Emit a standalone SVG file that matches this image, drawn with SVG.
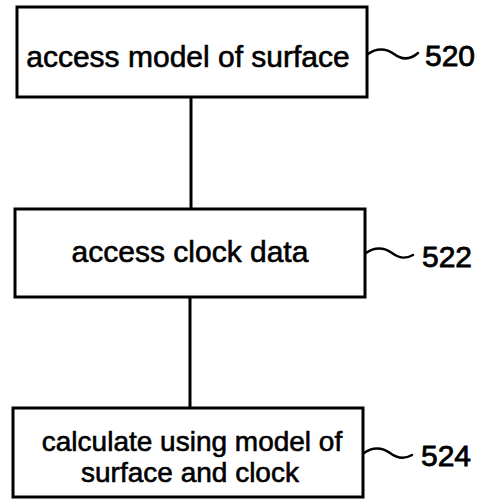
<svg xmlns="http://www.w3.org/2000/svg" width="493" height="500" viewBox="0 0 493 500">
  <style>
    .box { fill: #ffffff; stroke: #000000; stroke-width: 3; }
    .wire { fill: none; stroke: #000000; stroke-width: 3; }
    .lead { fill: none; stroke: #000000; stroke-width: 2.5; stroke-linecap: round; }
    .txt { font-family: "Liberation Sans", Arial, sans-serif; font-size: 30px; fill: #000000; stroke: #000000; stroke-width: 0.6; text-anchor: middle; }
    .txt2 { font-family: "Liberation Sans", Arial, sans-serif; font-size: 28px; fill: #000000; stroke: #000000; stroke-width: 0.6; text-anchor: middle; }
    .ref { font-family: "Liberation Sans", Arial, sans-serif; font-size: 30px; fill: #000000; stroke: #000000; stroke-width: 0.8; }
  </style>
  <rect width="493" height="500" fill="#ffffff"/>

  <!-- connectors between steps -->
  <g id="connectors">
    <line class="wire" x1="191" y1="98" x2="191" y2="209"/>
    <line class="wire" x1="190" y1="297" x2="190" y2="408"/>
  </g>

  <g id="step-520">
    <rect class="box" x="17" y="7" width="350" height="90"/>
    <text class="txt" x="188" y="67">access model of surface</text>
    <path class="lead" d="M368,54 C376,48 386,48 394,54 S410,60 418,53"/>
    <text class="ref" x="425" y="66">520</text>
  </g>

  <g id="step-522">
    <rect class="box" x="15" y="209" width="350" height="88"/>
    <text class="txt" x="190" y="262">access clock data</text>
    <path class="lead" d="M366,253 C374,247 384,247 392,253 S406,259 413,255"/>
    <text class="ref" x="422" y="267">522</text>
  </g>

  <g id="step-524">
    <rect class="box" x="13" y="408" width="350" height="89"/>
    <text class="txt2" x="192" y="451">calculate using model of</text>
    <text class="txt2" x="190" y="482">surface and clock</text>
    <path class="lead" d="M364,453 C372,447 382,447 390,453 S405,459 412,455"/>
    <text class="ref" x="421" y="466">524</text>
  </g>
</svg>
